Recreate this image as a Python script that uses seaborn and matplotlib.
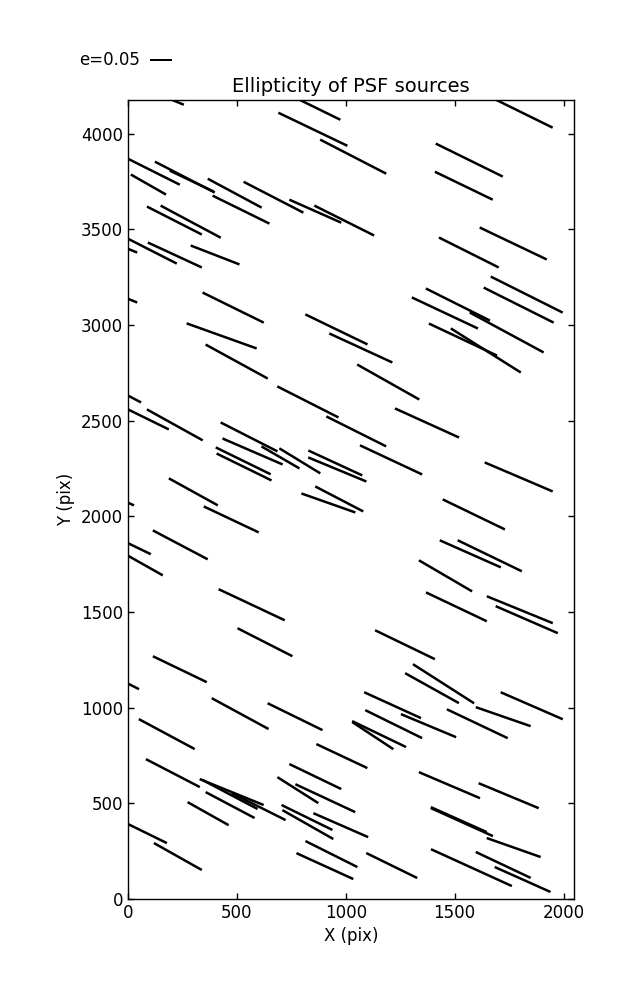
import numpy as np
import pandas as pd
import matplotlib
matplotlib.use('Agg')
import matplotlib.pyplot as plt
import seaborn as sns

# PSF star positions on the chip (pix), ellipticity and position angle (deg)
x = [858, 849, 1034, 105, 261, 293, 490, 668, 519, 860, 993, 94, 213, 288, 98, 215, 400, -43,
     1815, 1567, 1542, 1769, 1565, -43, 483, 430, 499, 957, 1069, 826, 1048, -23, 75, 215,
     1831, 1794, 1515, 1739, 1455, 1538, 1643, 1195, 1373, 556, 572, 529, 533, 789, 700, 952,
     961, 920, 970, 300, 474, -62, 240, 34, 50, 1208, 1794, 1588, 1572, 1661, 1458, 568, 629,
     238, -27, 515, 767, 178, 1508, 1799, 1831, 1272, 1449, 1396, 1854, 1723, 1215, 1220, 1380,
     1604, 1124, 1153, 206, 476, 469, 469, 600, 368, 66, 229, 780, 860, 906, 822, 826, 977, 982,
     934, 904, 1476, 1748, 1519, 1533, 1771, 1211, 1577, 1723, 1812, 178]
y = [4138, 4023, 3880, 3809, 3773, 3752, 3689, 3668, 3603, 3595, 3546, 3734, 3546, 3540, 3394,
     3366, 3366, 3418, 4107, 3862, 3728, 3426, 3379, 3157, 3091, 2943, 2809, 2977, 2880, 2598,
     2444, 2645, 2517, 2478, 3159, 3104, 3107, 2961, 3063, 2924, 2867, 2702, 2488, 2415, 2339,
     2290, 2258, 2290, 2308, 2279, 2245, 2070, 2091, 2128, 1984, 2102, 1851, 1841, 1762, 2295,
     2206, 2010, 1804, 1794, 1689, 1538, 1342, 1201, 1141, 969, 953, 862, 1527, 1512, 1460,
     1329, 1125, 1102, 1010, 953, 1013, 914, 906, 916, 854, 862, 658, 559, 546, 491, 483, 446,
     355, 222, 569, 640, 527, 426, 389, 386, 747, 235, 172, 595, 540, 415, 402, 269, 175, 164,
     178, 102, 4188]
e = [.129, .174, .169, .147, .153, .111, .139, .153, .144, .129, .152, .092, .140, .155, .140,
     .135, .119, .091, .149, .170, .146, .169, .152, .091, .155, .169, .161, .157, .158, .156,
     .152, .093, .124, .145, .183, .178, .163, .191, .166, .171, .188, .162, .160, .145, .149,
     .139, .139, .109, .100, .135, .143, .130, .123, .127, .138, .097, .141, .078, .125, .156,
     .168, .157, .152, .162, .140, .166, .140, .136, .086, .147, .139, .144, .153, .162, .154,
     .151, .165, .140, .154, .132, .142, .144, .136, .153, .112, .136, .138, .157, .141, .126,
     .137, .107, .124, .125, .110, .131, .150, .129, .133, .136, .128, .132, .142, .151, .148,
     .139, .155, .130, .129, .202, .138, .139, .084]
pa = [-26.1, -25.6, -27.3, -26.6, -27.3, -25.5, -28.2, -27.3, -26.2, -23.9, -26.6, -29.7, -27.0,
      -28.1, -27.0, -24.8, -21.2, -22.1, -26.2, -26.2, -25.8, -25.5, -26.6, -22.1, -26.2, -19.7,
      -28.7, -25.8, -24.7, -26.9, -26.6, -27.8, -26.1, -29.0, -26.6, -26.6, -26.6, -28.4, -25.2,
      -25.2, -32.2, -29.4, -24.4, -27.0, -23.4, -26.1, -26.1, -31.4, -30.1, -24.8, -22.5, -19.4,
      -27.5, -28.9, -25.3, -23.6, -27.8, -25.8, -29.4, -25.1, -23.1, -25.8, -23.9, -25.8, -30.3,
      -25.2, -27.0, -25.7, -26.6, -28.5, -26.1, -28.2, -25.4, -22.2, -23.5, -25.8, -32.6, -29.1,
      -23.5, -19.1, -24.5, -26.2, -22.7, -25.4, -33.4, -25.7, -27.4, -22.1, -27.8, -27.9, -26.6,
      -29.3, -26.1, -29.4, -32.4, -25.7, -25.0, -26.1, -29.6, -23.6, -25.2, -26.6, -24.5, -23.1,
      -22.6, -24.1, -24.3, -19.4, -26.1, -24.5, -25.3, -24.1, -22.4]

key_e = 0.05

sns.set_style("ticks", {"xtick.direction": "in", "ytick.direction": "in",
                        "axes.edgecolor": "black", "xtick.color": "black",
                        "ytick.color": "black", "text.color": "black",
                        "axes.labelcolor": "black"})
plt.rcParams['font.family'] = ['DejaVu Sans']
plt.rcParams['font.size'] = 12
plt.rcParams['xtick.top'] = True
plt.rcParams['ytick.right'] = True
plt.rcParams['xtick.major.size'] = 4
plt.rcParams['ytick.major.size'] = 4
plt.rcParams['axes.linewidth'] = 1.0

df = pd.DataFrame({'x': x, 'y': y, 'e': e, 'pa': pa})
df['u'] = df['e'] * np.cos(np.radians(df['pa']))
df['v'] = df['e'] * np.sin(np.radians(df['pa']))

fig = plt.figure(figsize=(6.37, 10), dpi=100)
ax = fig.add_axes([128/637, 101/1000, 446/637, 799/1000])

Q = ax.quiver(df['x'], df['y'], df['u'], df['v'], color='k', pivot='middle',
              headwidth=0, headlength=0, headaxislength=0,
              scale=key_e/0.22, scale_units='inches', units='dots', width=2.5)
ax.quiverkey(Q, 150/637, 0.94, key_e, 'e=%.2f' % key_e, labelpos='W',
             coordinates='figure', fontproperties={'size': 12})

ax.set_xlim(0, 2048)
ax.set_ylim(0, 4176)
ax.set_xticks(np.arange(0, 2001, 500))
ax.set_yticks(np.arange(0, 4001, 500))
ax.tick_params(labelsize=12, width=1, length=4)
ax.set_xlabel('X (pix)', fontsize=12)
ax.set_ylabel('Y (pix)', fontsize=12)
ax.set_title('Ellipticity of PSF sources', fontsize=14)

fig.savefig('out.png', dpi=100)
